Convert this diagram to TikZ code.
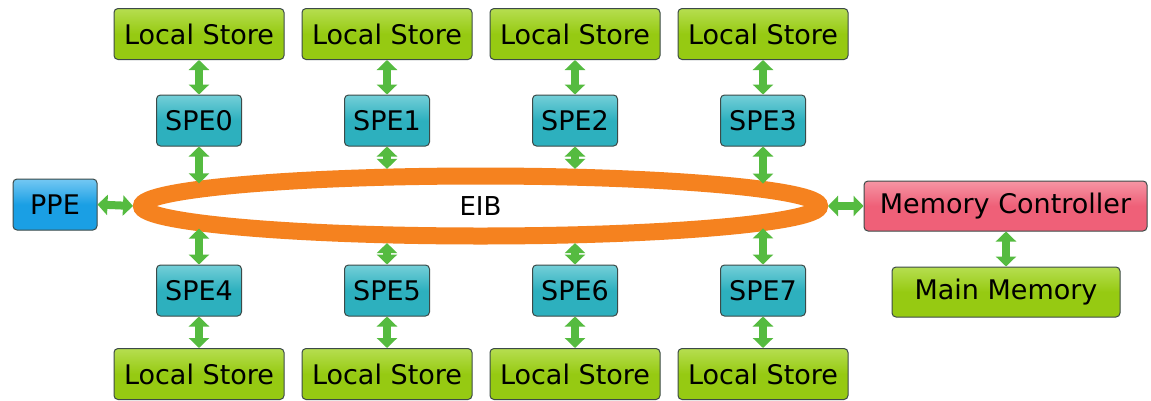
\documentclass[tikz,border=0pt]{standalone}
\usepackage{fontspec}
\setmainfont{DejaVu Sans}
\usetikzlibrary{shapes.geometric,arrows.meta}

\definecolor{lsBase}{HTML}{96CA12}
\definecolor{lsTop}{HTML}{B6DE50}
\definecolor{speBase}{HTML}{2DB0BE}
\definecolor{speTop}{HTML}{74CFD8}
\definecolor{ppeBase}{HTML}{1A9FE4}
\definecolor{ppeTop}{HTML}{74C8F3}
\definecolor{mcBase}{HTML}{EF6078}
\definecolor{mcTop}{HTML}{F595A4}
\definecolor{boxLine}{HTML}{3C4A48}
\definecolor{busOrange}{HTML}{F5821F}
\definecolor{linkGreen}{HTML}{55BB40}

\tikzset{
  unit/.style={draw=boxLine, line width=1pt, rounded corners=4pt, inner sep=0pt,
    font=\fontsize{27}{30}\selectfont, text=black},
  storebox/.style={unit, minimum width=170pt, minimum height=51pt,
    top color=lsTop, bottom color=lsBase, middle color=lsBase},
  spebox/.style={unit, minimum width=85pt, minimum height=51pt,
    top color=speTop, bottom color=speBase, middle color=speBase},
  ppebox/.style={unit, minimum width=84pt, minimum height=51pt,
    top color=ppeTop, bottom color=ppeBase, middle color=ppeBase},
  mcbox/.style={unit, minimum width=283pt, minimum height=50pt,
    top color=mcTop, bottom color=mcBase, middle color=mcBase},
  busring/.style={ellipse, draw=busOrange, line width=17pt, inner sep=0pt,
    minimum width=678pt, minimum height=60pt, font=\fontsize{26}{30}\selectfont},
  link/.style={draw=linkGreen, line width=8pt,
    {Triangle[width=20pt,length=10pt]}-{Triangle[width=20pt,length=10pt]}}
}

\begin{document}
\begin{tikzpicture}[x=1pt,y=-1pt]
  \useasboundingbox (0,0) rectangle (1151,400);
  \fill[white] (0,0) rectangle (1151,400);

  % element interconnect bus
  \node[busring] (eib) at (480.5,206) {EIB};

  % processing elements and their local stores
  \foreach \i/\x in {0/199,1/387,2/575,3/763} {
    \node[storebox] (lst\i) at (\x,34) {Local Store};
    \node[spebox] (spet\i) at (\x,120.5) {SPE\i};
    \pgfmathsetmacro\dy{38.5*sqrt(1-((\x-480.5)/347.5)^2)}
    \coordinate (ringt\i) at (\x,206-\dy);
    \draw[link] (lst\i.south) -- (spet\i.north);
    \draw[link] (spet\i.south) -- (ringt\i);
  }
  \foreach \i/\j/\x in {0/4/199,1/5/387,2/6/575,3/7/763} {
    \node[spebox] (speb\i) at (\x,290.5) {SPE\j};
    \node[storebox] (lsb\i) at (\x,374) {Local Store};
    \pgfmathsetmacro\dy{38.5*sqrt(1-((\x-480.5)/347.5)^2)}
    \coordinate (ringb\i) at (\x,206+\dy);
    \draw[link] (ringb\i) -- (speb\i.north);
    \draw[link] (speb\i.south) -- (lsb\i.north);
  }

  % control processor and memory side
  \node[ppebox] (ppe) at (55,204.5) {PPE};
  \node[mcbox] (mc) at (1005.5,206) {Memory Controller};
  \node[storebox, minimum width=228pt, minimum height=50pt] (mm) at (1006,292) {Main Memory};

  \draw[link] (ppe.east) -- (eib.west);
  \draw[link] (eib.east) -- (mc.west);
  \draw[link] (mc.south -| mm.north) -- (mm.north);
\end{tikzpicture}
\end{document}
